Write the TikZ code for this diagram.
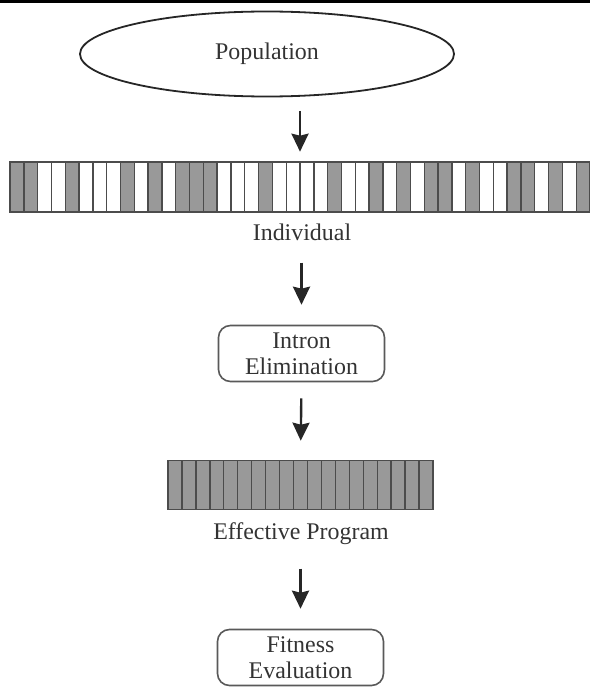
\documentclass[tikz,border=0pt]{standalone}
\usepackage{fontspec}
\setmainfont{Liberation Serif}
\usetikzlibrary{shapes.geometric,arrows.meta,positioning}

\colorlet{G}{black!40}
\colorlet{W}{white}

\tikzset{
  every node/.style={font=\fontsize{12}{13}\selectfont, text=black!80},
  flowarrow/.style={-{Stealth[length=9bp,width=8.5bp,inset=1bp]}, line width=1.2bp, draw=black!85},
  procbox/.style={draw=black!65, line width=0.8bp, rounded corners=6bp, minimum width=83bp, minimum height=28bp, align=center, inner sep=0pt},
  cell/.style={draw=black!70, line width=0.7bp},
  genome/.style={draw=black!70, line width=0.8bp, minimum height=24.5bp, inner sep=0pt},
}

\begin{document}
\begin{tikzpicture}[x=0.5bp,y=-0.5bp]
\useasboundingbox (0,0) rectangle (590,688);
% rule at the top
\draw[line width=1.5bp] (0,1.5) -- (590,1.5);

\node[ellipse, draw=black!85, line width=0.9bp, minimum width=187bp, minimum height=42.5bp, inner sep=0pt] (pop) at (267,54) {Population};

% individual: effective (grey) and intron (white) instructions
\node[genome, minimum width=290bp] (indiv) at (300,187) {};
\foreach \c [count=\i from 0] in {G,G,W,W,G,W,W,W,G,W,G,W,G,G,G,W,W,W,G,W,W,W,W,G,W,W,G,W,G,W,G,G,W,G,W,W,G,G,W,G,W,G}
  \draw[cell, fill=\c] ({10+13.81*\i},162) rectangle ({10+13.81*(\i+1)},212);
\node[inner sep=0pt, anchor=base] (indivlab) at (302,240) {Individual};

\node[procbox] (intron) at (301.5,353.5) {Intron\\Elimination};

% effective program
\node[genome, minimum width=132.5bp, fill=G] (effprog) at (300.5,485) {};
\foreach \i in {1,...,18}
  \draw[cell] ({168+13.947*\i},461) -- ({168+13.947*\i},509);
\node[inner sep=0pt, anchor=base] (efflab) at (301,539) {Effective Program};

\node[procbox] (fitness) at (300.5,657.5) {Fitness\\Evaluation};

\draw[flowarrow, shorten <=6.75bp, shorten >=5bp] (indiv.north |- pop.south) -- (indiv.north);
\draw[flowarrow, shorten <=11bp, shorten >=10bp] (intron.north |- indivlab.south) -- (intron.north);
\draw[flowarrow, shorten <=8bp, shorten >=9.5bp] (intron.south) -- (effprog.north);
\draw[flowarrow, shorten <=12bp, shorten >=10bp] (fitness.north |- efflab.south) -- (fitness.north);

\end{tikzpicture}
\end{document}
